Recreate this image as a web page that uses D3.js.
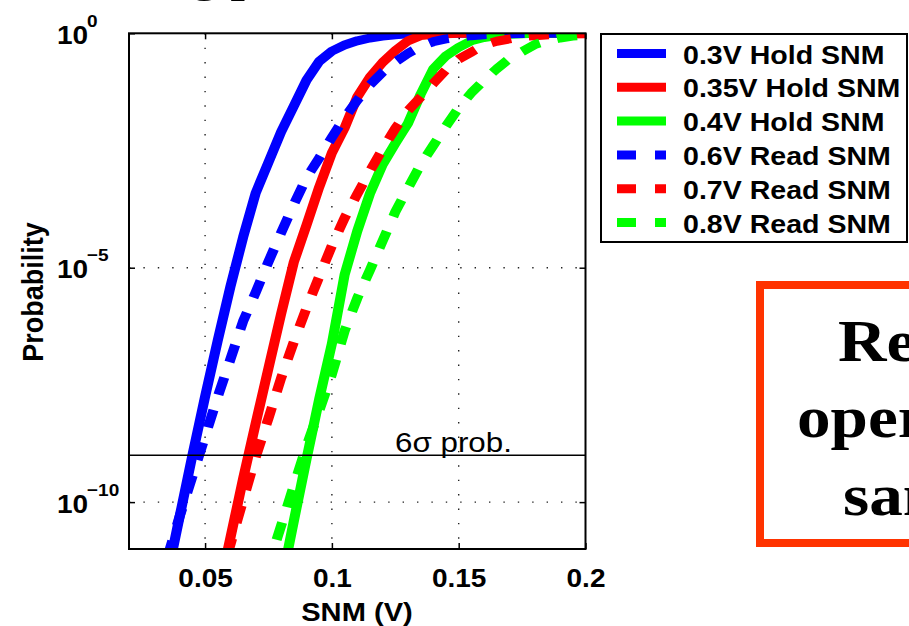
<!DOCTYPE html>
<html>
<head>
<meta charset="utf-8">
<script src="https://cdn.jsdelivr.net/npm/d3@7/dist/d3.min.js"></script>
<style>
  body { margin: 0; background: #fff; }
  svg { display: block; }
</style>
</head>
<body>
<script>
// ---- Data: SNM (V) vs. cumulative failure probability ----
const snmHold03 = [0.035,0.04,0.045,0.05,0.055,0.06,0.065,0.07,0.075,0.08,0.085,0.09,0.095,0.1,0.105,0.11,0.115,0.12,0.125,0.13,0.14,0.2];
const probHold03 = [2.51e-12,5.01e-11,1.0e-9,1.78e-8,2.82e-7,3.98e-6,4.47e-5,3.98e-4,1.78e-3,7.94e-3,2.82e-2,0.1,0.251,0.417,0.562,0.692,0.794,0.871,0.933,0.977,1,1];

const snmHold035 = [0.055,0.06,0.065,0.07,0.075,0.08,0.085,0.09,0.095,0.1,0.105,0.11,0.115,0.12,0.125,0.13,0.135,0.14,0.15,0.2];
const probHold035 = [1.0e-12,1.74e-11,3.16e-10,4.9e-9,7.24e-8,1.05e-6,1.32e-5,8.13e-5,5.25e-4,2.82e-3,9.55e-3,4.37e-2,0.115,0.24,0.427,0.692,0.891,0.955,1,1];

const snmHold04 = [0.08,0.085,0.09,0.095,0.1,0.105,0.11,0.115,0.12,0.125,0.13,0.135,0.14,0.145,0.15,0.155,0.16,0.165,0.17,0.18,0.2];
const probHold04 = [1.78e-12,3.98e-11,8.32e-10,1.58e-8,2.4e-7,7.0e-6,6.03e-5,3.8e-4,1.58e-3,4.47e-3,1.2e-2,5.01e-2,0.174,0.331,0.501,0.692,0.813,0.891,0.955,1,1];

const snmRead06 = [0.035,0.04,0.045,0.05,0.055,0.06,0.065,0.07,0.075,0.08,0.085,0.09,0.095,0.1,0.105,0.11,0.115,0.12,0.125,0.13,0.135,0.14,0.145,0.15,0.155,0.16,0.17,0.18,0.2];
const probRead06 = [6.31e-12,5.01e-11,3.55e-10,2.51e-9,1.78e-8,1.12e-7,7.24e-7,3.02e-6,1.35e-5,5.62e-5,2.24e-4,8.32e-4,2.19e-3,6.03e-3,1.58e-2,3.72e-2,7.94e-2,0.148,0.245,0.372,0.525,0.661,0.759,0.832,0.891,0.933,0.977,1,1];

const snmRead07 = [0.055,0.06,0.065,0.07,0.075,0.08,0.085,0.09,0.095,0.1,0.105,0.11,0.115,0.12,0.125,0.13,0.135,0.14,0.145,0.15,0.155,0.16,0.165,0.17,0.175,0.18,0.19,0.2];
const probRead07 = [1.41e-12,1.26e-11,1.10e-10,9.33e-10,6.17e-9,4.47e-8,2.63e-7,1.38e-6,6.46e-6,2.95e-5,1.15e-4,3.72e-4,1.15e-3,3.39e-3,9.33e-3,2.24e-2,4.37e-2,8.51e-2,0.166,0.282,0.398,0.562,0.676,0.759,0.851,0.891,0.955,0.977];

const snmRead08 = [0.07,0.075,0.08,0.085,0.09,0.095,0.1,0.105,0.11,0.115,0.12,0.125,0.13,0.135,0.14,0.145,0.15,0.155,0.16,0.165,0.17,0.175,0.18,0.185,0.19,0.195,0.2];
const probRead08 = [6.31e-13,4.47e-12,3.16e-11,2.24e-10,1.58e-9,8.91e-9,5.37e-8,4.47e-7,2.24e-6,8.91e-6,3.72e-5,1.55e-4,5.01e-4,1.58e-3,4.07e-3,1.05e-2,2.57e-2,5.37e-2,0.1,0.174,0.288,0.407,0.575,0.692,0.794,0.871,0.933];

const seriesNames  = ["0.3V Hold SNM","0.35V Hold SNM","0.4V Hold SNM","0.6V Read SNM","0.7V Read SNM","0.8V Read SNM"];
const seriesSnm    = [snmHold03, snmHold035, snmHold04, snmRead06, snmRead07, snmRead08];
const seriesProb   = [probHold03, probHold035, probHold04, probRead06, probRead07, probRead08];
const seriesColors = ["#0000ff","#ff0000","#00ff00","#0000ff","#ff0000","#00ff00"];
const seriesDashed = [false,false,false,true,true,true];

const xTicks = [0.05, 0.1, 0.15, 0.2];
const xTickLabels = ["0.05","0.1","0.15","0.2"];
const yTicks = [1, 1e-5, 1e-10];
const yTickExponents = ["0","\u22125","\u221210"];
const sixSigmaProb = 1e-9;

const slideTitle = "Scaling power";
const noteLines = ["Read", "operation", "same"];

// ---- Layout ----
const W = 909, H = 626;
const SX = 1.12;                       // horizontal stretch of the figure
const plot = { left: 129, right: 585.5, top: 33.3, bottom: 549 };
const sans = "'Liberation Sans', Arial, Helvetica, sans-serif";
const serif = "'Liberation Serif', 'Times New Roman', serif";

const svg = d3.select("body").append("svg")
  .attr("width", W).attr("height", H)
  .style("font-family", sans);

const x = d3.scaleLinear().domain([0.02, 0.2]).range([plot.left, plot.right]);
const y = d3.scaleLog().domain([1e-11, 1]).range([plot.bottom, plot.top]);

svg.append("defs").append("clipPath").attr("id", "plot-clip")
  .append("rect")
  .attr("x", plot.left).attr("y", plot.top)
  .attr("width", plot.right - plot.left).attr("height", plot.bottom - plot.top);

// ---- Slide heading (sits above the top edge; only descenders reach the page) ----
const title = svg.append("text")
  .attr("font-family", serif).attr("font-weight", "bold").attr("font-size", 46)
  .attr("fill", "#000").text(slideTitle);
const gIndex = slideTitle.indexOf("g");
const gPos = title.node().getStartPositionOfChar(gIndex).x;
title.attr("transform", `translate(${192 - gPos * SX},-8.8) scale(${SX},1)`);

// ---- Dotted grid ----
const grid = svg.append("g").attr("stroke", "#222").attr("stroke-width", 1.4)
  .attr("stroke-dasharray", "1.4,13");
xTicks.filter(v => v < 0.2).forEach(v => {
  grid.append("line").attr("x1", x(v)).attr("x2", x(v))
    .attr("y1", plot.top).attr("y2", plot.bottom);
});
yTicks.filter(v => v < 1).forEach(v => {
  grid.append("line").attr("x1", plot.left).attr("x2", plot.right)
    .attr("y1", y(v)).attr("y2", y(v));
});

// ---- Axes (inward ticks on all four sides) ----
const axisStyle = g => {
  g.select(".domain").remove();
  g.selectAll(".tick line").attr("stroke", "#000").attr("stroke-width", 1.5);
};
svg.append("g").attr("transform", `translate(0,${plot.bottom})`)
  .call(d3.axisBottom(x).tickValues(xTicks).tickSizeInner(-6).tickSizeOuter(0)
        .tickFormat((d, i) => xTickLabels[i]))
  .call(axisStyle)
  .call(g => g.selectAll(".tick text")
    .attr("y", 38).attr("dy", null)
    .attr("transform", `scale(${SX},1)`)
    .attr("font-family", sans).attr("font-size", 25).attr("font-weight", "bold")
    .attr("fill", "#000"));
svg.append("g").attr("transform", `translate(0,${plot.top})`)
  .call(d3.axisTop(x).tickValues(xTicks).tickSizeInner(-6).tickSizeOuter(0).tickFormat(""))
  .call(axisStyle);
svg.append("g").attr("transform", `translate(${plot.left},0)`)
  .call(d3.axisLeft(y).tickValues(yTicks).tickSizeInner(-6).tickSizeOuter(0).tickFormat(""))
  .call(axisStyle);
svg.append("g").attr("transform", `translate(${plot.right},0)`)
  .call(d3.axisRight(y).tickValues(yTicks).tickSizeInner(-6).tickSizeOuter(0).tickFormat(""))
  .call(axisStyle);

// power-of-ten tick labels
const yLab = svg.append("g").attr("font-weight", "bold").attr("fill", "#000");
yTicks.forEach((v, i) => {
  const ty = y(v);
  yLab.append("text")
    .attr("transform", `translate(57,${ty + 10.5}) scale(${SX},1)`)
    .attr("font-size", 25).text("10");
  yLab.append("text")
    .attr("transform", `translate(87,${ty - 6.5}) scale(${SX},1)`)
    .attr("font-size", 17).text(yTickExponents[i]);
});

// ---- Curves (drawn in a horizontally stretched frame so strokes widen like the text) ----
const line = d3.line().x(d => x(d[0]) / SX).y(d => y(d[1]));
const curves = svg.append("g").attr("clip-path", "url(#plot-clip)")
  .append("g").attr("transform", `scale(${SX},1)`);
seriesNames.forEach((name, i) => {
  const pts = seriesSnm[i].map((s, k) => [s, seriesProb[i][k]]);
  curves.append("path")
    .datum(pts)
    .attr("d", line)
    .attr("fill", "none")
    .attr("stroke", seriesColors[i])
    .attr("stroke-width", 9)
    .attr("stroke-linejoin", "round")
    .attr("stroke-linecap", "butt")
    .attr("stroke-dasharray", seriesDashed[i] ? "18,16" : null);
});

// 6-sigma reference line
svg.append("line")
  .attr("x1", plot.left).attr("x2", plot.right)
  .attr("y1", y(sixSigmaProb)).attr("y2", y(sixSigmaProb))
  .attr("stroke", "#000").attr("stroke-width", 1.6);
svg.append("text")
  .attr("transform", `translate(395,${y(sixSigmaProb) - 3.5}) scale(${SX},1)`)
  .attr("font-size", 28).attr("fill", "#000")
  .text("6\u03c3 prob.");

// axes box
svg.append("rect")
  .attr("x", plot.left).attr("y", plot.top)
  .attr("width", plot.right - plot.left).attr("height", plot.bottom - plot.top)
  .attr("fill", "none").attr("stroke", "#000").attr("stroke-width", 2);

// axis titles
svg.append("text")
  .attr("transform", `translate(357,621) scale(${SX},1)`)
  .attr("text-anchor", "middle").attr("font-size", 26).attr("font-weight", "bold")
  .text("SNM (V)");
svg.append("text")
  .attr("transform", `translate(43,292) scale(${SX},1) rotate(-90)`)
  .attr("text-anchor", "middle").attr("font-size", 27).attr("font-weight", "bold")
  .text("Probability");

// ---- Legend ----
const legend = svg.append("g");
legend.append("rect")
  .attr("x", 601).attr("y", 34).attr("width", 306).attr("height", 208)
  .attr("fill", "#fff").attr("stroke", "#000").attr("stroke-width", 2);
seriesNames.forEach((name, i) => {
  const ry = 53.5 + i * 33.8;
  legend.append("line")
    .attr("x1", 617).attr("x2", 666).attr("y1", ry).attr("y2", ry)
    .attr("stroke", seriesColors[i]).attr("stroke-width", 9)
    .attr("stroke-dasharray", seriesDashed[i] ? "19,19" : null);
  legend.append("text")
    .attr("transform", `translate(683,${ry + 10}) scale(${SX},1)`)
    .attr("font-size", 25.5).attr("font-weight", "bold").text(name);
});

// ---- Side note box ----
svg.append("rect")
  .attr("x", 760).attr("y", 285).attr("width", 260).attr("height", 258)
  .attr("fill", "none").attr("stroke", "#ff3300").attr("stroke-width", 8);
const noteX = [838, 797, 843];
const noteY = [361, 437, 515];
noteLines.forEach((t, i) => {
  svg.append("text")
    .attr("transform", `translate(${noteX[i]},${noteY[i]}) scale(${SX},1)`)
    .attr("font-family", serif).attr("font-weight", "bold").attr("font-size", 60)
    .attr("fill", "#000").text(t);
});
</script>
</body>
</html>
